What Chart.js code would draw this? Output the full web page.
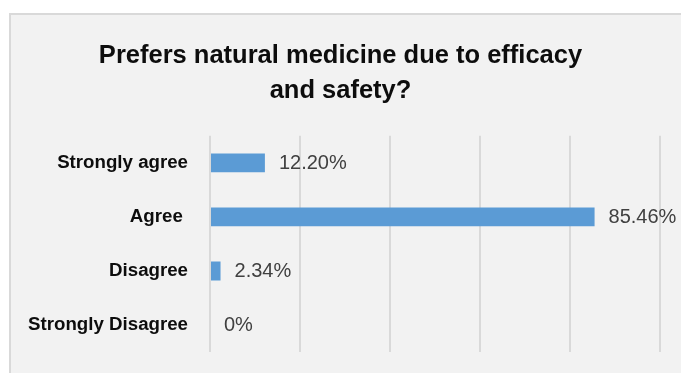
<!DOCTYPE html>
<html>
<head>
<meta charset="utf-8">
<title>Prefers natural medicine</title>
<script src="https://cdn.jsdelivr.net/npm/chart.js@4.4.1/dist/chart.umd.min.js"></script>
<style>
  html, body { margin: 0; padding: 0; background: #ffffff; }
  body { width: 681px; height: 373px; position: relative; overflow: hidden; }
  #panel {
    position: absolute; left: 9px; top: 13px; right: 0; bottom: 0;
    background: #f2f2f2;
    border-left: 2px solid #d9d9d9;
    border-top: 2px solid #d9d9d9;
  }
  #chart { position: absolute; left: 0; top: 0; }
</style>
</head>
<body>
<div id="panel"></div>
<canvas id="chart" width="681" height="373"></canvas>
<script>
// Survey answers and their shares (%)
const categories = ['Strongly agree', 'Agree ', 'Disagree', 'Strongly Disagree'];
const percentages = [12.20, 85.46, 2.34, 0];
const xTicks = [0, 20, 40, 60, 80, 100];

const titleLines = ['Prefers natural medicine due to efficacy', 'and safety?'];

function formatPct(v) {
  return v === 0 ? '0%' : v.toFixed(2) + '%';
}

// Simple value labels to the right of each bar
const valueLabels = {
  id: 'valueLabels',
  afterDatasetsDraw(chart) {
    const ctx = chart.ctx;
    const meta = chart.getDatasetMeta(0);
    ctx.save();
    ctx.font = '20px "Liberation Sans", Arial, sans-serif';
    ctx.fillStyle = '#404040';
    ctx.textAlign = 'left';
    ctx.textBaseline = 'middle';
    meta.data.forEach((bar, i) => {
      ctx.fillText(formatPct(percentages[i]), bar.x + 14, bar.y + 1);
    });
    ctx.restore();
  }
};

const ctx = document.getElementById('chart').getContext('2d');
new Chart(ctx, {
  type: 'bar',
  data: {
    labels: categories,
    datasets: [{
      data: percentages,
      backgroundColor: '#5b9bd5',
      borderWidth: 0,
      categoryPercentage: 1,
      barPercentage: 0.35
    }]
  },
  options: {
    indexAxis: 'y',
    responsive: false,
    animation: false,
    layout: { padding: { left: 21, right: 21, top: 0, bottom: 21 } },
    plugins: {
      legend: { display: false },
      tooltip: { enabled: false },
      title: {
        display: true,
        text: titleLines,
        color: '#0d0d0d',
        font: { family: '"Liberation Sans", Arial, sans-serif', size: 25.5, weight: 'bold', lineHeight: 1.35 },
        padding: { top: 39, bottom: 28 }
      }
    },
    scales: {
      x: {
        min: 0,
        max: 100,
        afterBuildTicks: (scale) => { scale.ticks = xTicks.map(v => ({ value: v })); },
        ticks: { display: false },
        grid: { color: '#d9d9d9', lineWidth: 2, drawTicks: false },
        border: { display: false }
      },
      y: {
        grid: { display: false },
        border: { display: false },
        ticks: {
          color: '#0d0d0d',
          padding: 14,
          font: { family: '"Liberation Sans", Arial, sans-serif', size: 18.7, weight: 'bold' }
        },
        afterFit: (scale) => {
          scale.width = 189;
          scale.paddingTop = 0;
          scale.paddingBottom = 0;
        }
      }
    }
  },
  plugins: [valueLabels]
});
</script>
</body>
</html>
